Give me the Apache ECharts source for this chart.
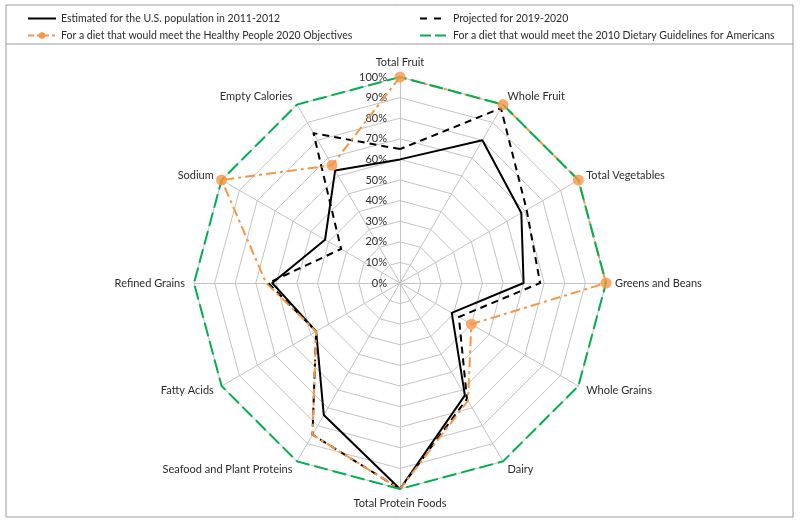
<!DOCTYPE html>
<html>
<head>
<meta charset="utf-8">
<script src="https://cdn.jsdelivr.net/npm/echarts@6/dist/echarts.min.js"></script>
<style>
  html, body { margin: 0; padding: 0; background: #fff; }
  #chart { width: 800px; height: 524px; }
</style>
</head>
<body>
<div id="chart"></div>
<script>
// Categories clockwise from the top
var categories = ['Total Fruit', 'Whole Fruit', 'Total Vegetables', 'Greens and Beans', 'Whole Grains', 'Dairy',
  'Total Protein Foods', 'Seafood and Plant Proteins', 'Fatty Acids', 'Refined Grains', 'Sodium', 'Empty Calories'];
var estimated2011 = [60, 80, 68, 60, 29, 63, 100, 74, 47, 62, 42, 63];
var projected2019 = [65, 98, 71, 68, 33, 65, 100, 85, 47, 64, 33, 84];
var healthyPeople2020 = [100, 100, 100, 100, 40, 66, 100, 85, 47, 65, 100, 66];
var dietaryGuidelines2010 = [100, 100, 100, 100, 100, 100, 100, 100, 100, 100, 100, 100];
var hpMarkerCats = ['Total Fruit', 'Whole Fruit', 'Total Vegetables', 'Greens and Beans', 'Whole Grains', 'Sodium', 'Empty Calories'];
var seriesNames = ['Estimated for the U.S. population in 2011-2012', 'Projected for 2019-2020',
  'For a diet that would meet the Healthy People 2020 Objectives', 'For a diet that would meet the 2010 Dietary Guidelines for Americans'];
var percentTicks = ['0%', '10%', '20%', '30%', '40%', '50%', '60%', '70%', '80%', '90%', '100%'];

var FONT = 'Lato';
var TXT = '#2b2b2b';
var GRID = '#c4c4c4';
var ORANGE = '#F79646';
var GREEN = '#00B050';

// ECharts radar places indicators counter-clockwise; reorder to get clockwise layout
function ccw(arr) { return [arr[0]].concat(arr.slice(1).reverse()); }

var indicators = ccw(categories).map(function (c, i) {
  var ind = { name: c, min: 0, max: 100 };
  if (i === 0) {
    ind.axisLabel = {
      show: true, color: TXT, fontSize: 11, fontFamily: FONT, margin: 13,
      formatter: function (v) { return percentTicks[Math.round(v / 10)]; }
    };
  }
  return ind;
});

var styles = [
  { color: '#000000', type: 'solid', width: 2 },
  { color: '#000000', type: [7, 5], width: 2 },
  { color: ORANGE, type: [10, 4, 3, 4], width: 2 },
  { color: GREEN, type: [14, 5], width: 2 }
];
var values = [estimated2011, projected2019, healthyPeople2020, dietaryGuidelines2010];

var radarSeries = values.map(function (vals, k) {
  return {
    type: 'radar',
    radarIndex: 0,
    symbol: 'none',
    z: 2 + k,
    silent: true,
    lineStyle: { color: styles[k].color, type: styles[k].type, width: styles[k].width },
    itemStyle: { color: styles[k].color },
    data: [{ name: seriesNames[k] + ' ', value: ccw(vals) }]
  };
});

var legendLineTypes = ['solid', [7, 7], [6, 3, 3, 3], [11, 4]];
var legendSeries = seriesNames.map(function (n, k) {
  return {
    type: 'line',
    name: n,
    coordinateSystem: 'polar',
    symbol: 'circle',
    symbolSize: 8,
    lineStyle: { color: styles[k].color, type: legendLineTypes[k], width: 2 },
    itemStyle: { color: styles[k].color },
    data: []
  };
});

var markerData = hpMarkerCats.map(function (c) {
  return [healthyPeople2020[categories.indexOf(c)], c];
});

var legendText = { fontSize: 10.5, color: TXT, fontFamily: FONT };

var option = {
  animation: false,
  backgroundColor: '#ffffff',
  textStyle: { fontFamily: FONT },
  graphic: [
    { type: 'rect', shape: { x: 6, y: 5, width: 787, height: 512 }, style: { fill: 'none', stroke: '#9a9a9a', lineWidth: 1 } },
    { type: 'line', shape: { x1: 6, y1: 44, x2: 793, y2: 44 }, style: { stroke: '#9a9a9a', lineWidth: 1 } }
  ],
  legend: [
    {
      orient: 'vertical', left: 22, top: 8, itemWidth: 28, itemHeight: 8, itemGap: 6,
      textStyle: legendText,
      data: [
        { name: seriesNames[0], itemStyle: { opacity: 0 } },
        { name: seriesNames[2] }
      ]
    },
    {
      orient: 'vertical', left: 414, top: 8, itemWidth: 28, itemHeight: 8, itemGap: 6,
      textStyle: legendText,
      data: [
        { name: seriesNames[1], itemStyle: { opacity: 0 } },
        { name: seriesNames[3], itemStyle: { opacity: 0 } }
      ]
    }
  ],
  radar: {
    center: [400, 283],
    radius: 206,
    startAngle: 90,
    shape: 'polygon',
    splitNumber: 10,
    nameGap: 9,
    axisName: { color: TXT, fontSize: 11, fontFamily: FONT },
    axisLine: { show: true, lineStyle: { color: GRID, width: 1 } },
    splitLine: { show: true, lineStyle: { color: GRID, width: 1 } },
    splitArea: { show: false },
    axisTick: { show: false },
    axisLabel: { show: false },
    indicator: indicators
  },
  polar: { center: [400, 283], radius: 206 },
  angleAxis: {
    type: 'category', data: categories, startAngle: 90, clockwise: true, boundaryGap: false,
    show: false, axisLine: { show: false }, axisLabel: { show: false }, axisTick: { show: false }, splitLine: { show: false }
  },
  radiusAxis: {
    min: 0, max: 100, show: false,
    axisLine: { show: false }, axisLabel: { show: false }, axisTick: { show: false }, splitLine: { show: false }
  },
  series: radarSeries.concat(legendSeries).concat([{
    type: 'scatter',
    coordinateSystem: 'polar',
    symbol: 'circle',
    symbolSize: 11,
    z: 10,
    silent: true,
    itemStyle: { color: ORANGE },
    data: markerData
  }])
};

var chart = echarts.init(document.getElementById('chart'), null, { renderer: 'canvas' });
chart.setOption(option);
</script>
</body>
</html>
